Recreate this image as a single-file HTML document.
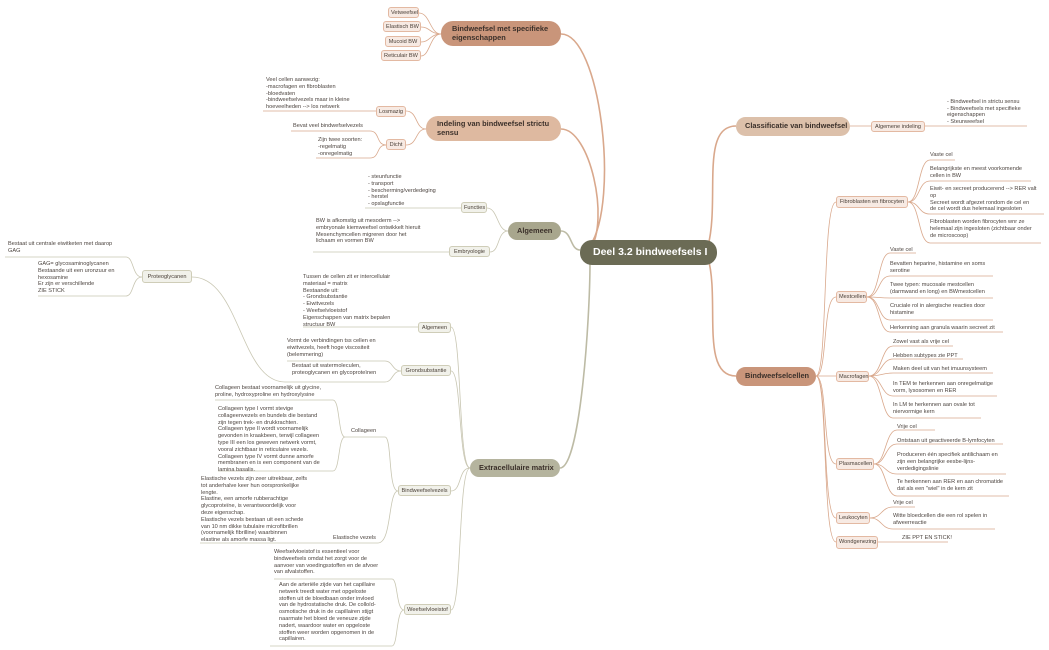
<!DOCTYPE html>
<html><head><meta charset="utf-8"><style>
body{margin:0;width:1049px;height:650px;background:#fff;position:relative;overflow:hidden;font-family:"Liberation Sans",sans-serif;color:#4a4038}
.t{position:absolute;font-size:5.6px;line-height:6.8px;white-space:nowrap;color:#4d4540}
.b{position:absolute;font-size:5.6px;height:11px;line-height:10px;padding:0 2px;border:1px solid #e3b9a2;background:#f7eae3;border-radius:3px;box-sizing:border-box;text-align:center;white-space:nowrap}
.o{border-color:#cfcdb8;background:#f1f1ea}
.m{position:absolute;border-radius:12px;font-size:7.4px;font-weight:bold;display:flex;align-items:center;padding-left:11px;box-sizing:border-box;color:#3b302a;line-height:8.5px}
.n{white-space:nowrap}
svg{position:absolute;left:0;top:0}
</style></head><body>
<svg width="1049" height="650" fill="none">
<g stroke="#d9a88c" stroke-width="1.6">
<path d="M590 246 C620 200,600 34,561 34"/>
<path d="M590 250 C610 220,590 129,561 129"/>
<path d="M708 246 C720 200,700 126,736 126"/>
<path d="M708 258 C720 300,700 376,736 376"/>
</g>
<g stroke="#bdbba5" stroke-width="1.6">
<path d="M580 250 C570 250,572 231,561 231"/>
<path d="M590 262 C590 320,580 468,560 468"/>
</g>
<g stroke="#d9a88c" stroke-width="0.8">
<path d="M441 34 C430 34,430 13,419 13"/><path d="M441 34 C430 34,430 27,421 27"/><path d="M441 34 C430 34,430 42,421 42"/><path d="M441 34 C430 34,430 56,421 56"/>
<path d="M426 129 C415 129,418 111,406 111"/><path d="M426 129 C415 129,418 145,406 145"/>
<path d="M376 111 L263 111"/>
<path d="M386 145 C376 145,380 131,370 131 L291 131"/><path d="M386 145 C376 145,380 158,370 158 L316 158"/>
<path d="M850 126 L871 126"/><path d="M925 126 L1027 126"/>
<path d="M816 376 C828 376,822 202,836 202"/><path d="M816 376 C828 376,822 297,836 297"/><path d="M816 376 L836 376"/><path d="M816 376 C828 376,822 464,836 464"/><path d="M816 376 C828 376,822 518,836 518"/><path d="M816 376 C828 376,822 542,836 542"/>
<path d="M908 202 C920 202,918 160,930 160 L955 160"/><path d="M908 202 C920 202,918 181,930 181 L1031 181"/><path d="M908 202 C920 202,918 214,930 214 L1044 214"/><path d="M908 202 C920 202,918 243,930 243 L1041 243"/>
<path d="M867 297 C880 297,878 253,890 253 L916 253"/><path d="M867 297 C880 297,878 276,890 276 L993 276"/><path d="M867 297 C880 297,878 298,890 298 L993 298"/><path d="M867 297 C880 297,878 320,890 320 L993 320"/><path d="M867 297 C880 297,878 332,890 332 L1003 332"/>
<path d="M869 376 C882 376,881 346,893 346 L953 346"/><path d="M869 376 C882 376,881 359,893 359 L963 359"/><path d="M869 376 C882 376,881 373,893 373 L993 373"/><path d="M869 376 C882 376,881 396,893 396 L997 396"/><path d="M869 376 C882 376,881 418,893 418 L981 418"/>
<path d="M874 464 C886 464,885 430,897 430 L935 430"/><path d="M874 464 C886 464,885 444,897 444 L1003 444"/><path d="M874 464 C886 464,885 474,897 474 L1006 474"/><path d="M874 464 C886 464,885 496,897 496 L1009 496"/>
<path d="M870 518 C882 518,881 507,893 507 L915 507"/><path d="M870 518 C882 518,881 529,893 529 L995 529"/>
<path d="M878 542 L948 542"/>
</g>
<g stroke="#c8c6b2" stroke-width="0.8">
<path d="M508 231 C497 231,498 208,487 208"/><path d="M508 231 C497 231,500 252,490 252"/>
<path d="M461 208 L365 208"/><path d="M449 252 L313 252"/>
<path d="M470 468 C458 468,462 327,451 327"/><path d="M470 468 C458 468,462 371,451 371"/><path d="M470 468 C458 468,462 491,451 491"/><path d="M470 468 C458 468,462 610,451 610"/>
<path d="M418 327 L303 327"/>
<path d="M401 371 C392 371,393 361,385 361 L287 361"/><path d="M401 371 C392 371,393 382,385 382 L285 382"/>
<path d="M285 382 C240 382,240 277,192 277"/>
<path d="M142 277 C132 277,134 257,126 257 L5 257"/><path d="M142 277 C132 277,134 296,126 296 L38 296"/>
<path d="M398 491 C388 491,392 437,385 437 L345 437"/><path d="M345 437 C338 437,340 400,333 400 L215 400"/><path d="M345 437 C338 437,340 471,333 471 L218 471"/>
<path d="M398 491 C388 491,392 543,378 543 L200 543"/>
<path d="M404 610 C396 610,398 579,392 579 L274 579"/><path d="M404 610 C396 610,398 646,392 646 L270 646"/>
</g>
</svg>

<div class="m n" style="left:580px;top:240px;width:137px;height:25px;background:#6b6b55;color:#fff;font-size:10.5px;padding-left:13px">Deel 3.2 bindweefsels I</div>
<div class="m" style="left:441px;top:21px;width:120px;height:25px;background:#c9957a">Bindweefsel met specifieke eigenschappen</div>
<div class="m" style="left:426px;top:116px;width:135px;height:25px;background:#deb9a0">Indeling van bindweefsel strictu sensu</div>
<div class="m n" style="left:508px;top:222px;width:53px;height:18px;background:#a8a68d;padding-left:9px">Algemeen</div>
<div class="m n" style="left:470px;top:459px;width:90px;height:18px;background:#b5b49e;padding-left:9px">Extracellulaire matrix</div>
<div class="m n" style="left:736px;top:117px;width:114px;height:19px;background:#dcc0aa;padding-left:9px">Classificatie van bindweefsel</div>
<div class="m n" style="left:736px;top:367px;width:80px;height:19px;background:#c9957a;padding-left:9px">Bindweefselcellen</div>

<div class="b" style="left:388px;top:7px;width:31px">Vetweefsel</div>
<div class="b" style="left:383px;top:21px;width:38px">Elastisch BW</div>
<div class="b" style="left:385px;top:36px;width:36px">Mucoid BW</div>
<div class="b" style="left:381px;top:50px;width:40px">Reticulair BW</div>
<div class="b" style="left:376px;top:106px;width:30px">Losmazig</div>
<div class="b" style="left:386px;top:139px;width:20px">Dicht</div>
<div class="b o" style="left:461px;top:202px;width:26px">Functies</div>
<div class="b o" style="left:449px;top:246px;width:41px">Embryologie</div>
<div class="b o" style="left:418px;top:322px;width:33px">Algemeen</div>
<div class="b o" style="left:401px;top:365px;width:50px">Grondsubstantie</div>
<div class="b o" style="left:142px;top:270px;width:50px;height:13px;line-height:12px">Proteoglycanen</div>
<div class="b o" style="left:398px;top:485px;width:53px">Bindweefselvezels</div>
<div class="b o" style="left:404px;top:604px;width:47px">Weefselvloeistof</div>
<div class="b" style="left:871px;top:121px;width:54px">Algemene indeling</div>
<div class="b" style="left:836px;top:196px;width:72px;height:12px">Fibroblasten en fibrocyten</div>
<div class="b" style="left:836px;top:291px;width:31px;height:12px">Mestcellen</div>
<div class="b" style="left:836px;top:371px;width:33px">Macrofagen</div>
<div class="b" style="left:836px;top:458px;width:38px;height:12px">Plasmacellen</div>
<div class="b" style="left:836px;top:512px;width:34px;height:12px">Leukocyten</div>
<div class="b" style="left:836px;top:536px;width:42px;height:13px">Wondgenezing</div>

<div class="t" style="left:266px;top:77px">Veel cellen aanwezig:<br>-macrofagen en fibroblasten<br>-bloedvaten<br>-bindweefselvezels maar in kleine<br>hoeveelheden --&gt; los netwerk</div>
<div class="t" style="left:293px;top:123px">Bevat veel bindwefselvezels</div>
<div class="t" style="left:318px;top:137px">Zijn twee soorten:<br>-regelmatig<br>-onregelmatig</div>
<div class="t" style="left:368px;top:174px">- steunfunctie<br>- transport<br>- bescherming/verdedeging<br>- herstel<br>- opslagfunctie</div>
<div class="t" style="left:316px;top:218px">BW is afkomstig uit mesoderm --&gt;<br>embryonale kiemweefsel ontwikkelt hieruit<br>Mesenchymcellen migreren door het<br>lichaam en vormen BW</div>
<div class="t" style="left:303px;top:274px">Tussen de cellen zit er intercellulair<br>materiaal = matrix<br>Bestaande uit:<br>- Grondsubstantie<br>- Eiwitvezels<br>- Weefselvloeistof<br>Eigenschappen van matrix bepalen<br>structuur BW</div>
<div class="t" style="left:287px;top:338px">Vormt de verbindingen tss cellen en<br>eiwitvezels, heeft hoge viscositeit<br>(belemmering)</div>
<div class="t" style="left:292px;top:363px">Bestaat uit watermoleculen,<br>proteoglycanen en glycoproteïnen</div>
<div class="t" style="left:8px;top:241px">Bestaat uit centrale eiwitketen met daarop<br>GAG</div>
<div class="t" style="left:38px;top:261px">GAG= glycosaminoglycanen<br>Bestaande uit een uronzuur en<br>hexosamine<br>Er zijn er verschillende<br>ZIE STICK</div>
<div class="t" style="left:215px;top:385px">Collageen bestaat voornamelijk uit glycine,<br>proline, hydroxyproline en hydroxylysine</div>
<div class="t" style="left:351px;top:428px">Collageen</div>
<div class="t" style="left:218px;top:406px">Collageen type I vormt stevige<br>collageenvezels en bundels die bestand<br>zijn tegen trek- en drukkrachten.<br>Collageen type II wordt voornamelijk<br>gevonden in kraakbeen, terwijl collageen<br>type III een los geweven netwerk vormt,<br>vooral zichtbaar in reticulaire vezels.<br>Collageen type IV vormt dunne amorfe<br>membranen en is een component van de<br>lamina basalis.</div>
<div class="t" style="left:201px;top:476px">Elastische vezels zijn zeer uitrekbaar, zelfs<br>tot anderhalve keer hun oorspronkelijke<br>lengte.<br>Elastine, een amorfe rubberachtige<br>glycoproteïne, is verantwoordelijk voor<br>deze eigenschap.<br>Elastische vezels bestaan uit een schede<br>van 10 nm dikke tubulaire microfibrillen<br>(voornamelijk fibrilline) waarbinnen<br>elastine als amorfe massa ligt.</div>
<div class="t" style="left:333px;top:535px">Elastische vezels</div>
<div class="t" style="left:274px;top:549px">Weefselvloeistof is essentieel voor<br>bindweefsels omdat het zorgt voor de<br>aanvoer van voedingsstoffen en de afvoer<br>van afvalstoffen.</div>
<div class="t" style="left:279px;top:582px">Aan de arteriële zijde van het capillaire<br>netwerk treedt water met opgeloste<br>stoffen uit de bloedbaan onder invloed<br>van de hydrostatische druk. De colloïd-<br>osmotische druk in de capillairen stijgt<br>naarmate het bloed de veneuze zijde<br>nadert, waardoor water en opgeloste<br>stoffen weer worden opgenomen in de<br>capillairen.</div>

<div class="t" style="left:947px;top:99px;line-height:6.5px">- Bindweefsel in strictu sensu<br>- Bindweefsels met specifieke<br>eigenschappen<br>- Steunweefsel</div>
<div class="t" style="left:930px;top:152px">Vaste cel</div>
<div class="t" style="left:930px;top:166px">Belangrijkste en meest voorkomende<br>cellen in BW</div>
<div class="t" style="left:930px;top:186px">Eiwit- en secreet producerend --&gt; RER valt<br>op<br>Secreet wordt afgezet rondom de cel en<br>de cel wordt dus helemaal ingesloten</div>
<div class="t" style="left:930px;top:219px">Fibroblasten worden fibrocyten wnr ze<br>helemaal zijn ingesloten (zichtbaar onder<br>de microscoop)</div>
<div class="t" style="left:890px;top:247px">Vaste cel</div>
<div class="t" style="left:890px;top:261px">Bevatten heparine, histamine en soms<br>serotine</div>
<div class="t" style="left:890px;top:282px">Twee typen: mucosale mestcellen<br>(darmwand en long) en BWmestcellen</div>
<div class="t" style="left:890px;top:303px">Cruciale rol in alergische reacties door<br>histamine</div>
<div class="t" style="left:890px;top:325px">Herkenning aan granula waarin secreet zit</div>
<div class="t" style="left:893px;top:339px">Zowel vast als vrije cel</div>
<div class="t" style="left:893px;top:353px">Hebben subtypes zie PPT</div>
<div class="t" style="left:893px;top:366px">Maken deel uit van het imuunsysteem</div>
<div class="t" style="left:893px;top:381px">In TEM te herkennen aan onregelmatige<br>vorm, lysosomen en RER</div>
<div class="t" style="left:893px;top:402px">In LM te herkennen aan ovale tot<br>niervormige kern</div>
<div class="t" style="left:897px;top:424px">Vrije cel</div>
<div class="t" style="left:897px;top:438px">Ontstaan uit geactiveerde B-lymfocyten</div>
<div class="t" style="left:897px;top:452px">Produceren één specifiek antilichaam en<br>zijn een belangrijke eesbe-lijns-<br>verdedigingslinie</div>
<div class="t" style="left:897px;top:479px">Te herkennen aan RER en aan chromatide<br>dat als een "wiel" in de kern zit</div>
<div class="t" style="left:893px;top:500px">Vrije cel</div>
<div class="t" style="left:893px;top:513px">Witte bloedcellen die een rol spelen in<br>afweerreactie</div>
<div class="t" style="left:902px;top:535px">ZIE PPT EN STICK!</div>
</body></html>
